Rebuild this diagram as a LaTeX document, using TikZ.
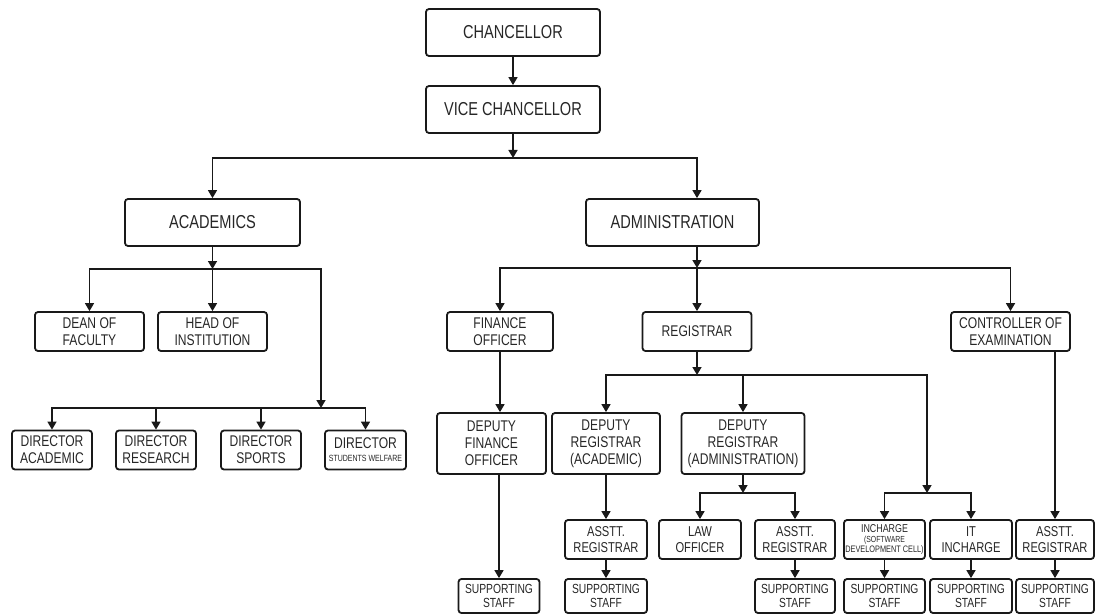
\documentclass[tikz,border=0pt]{standalone}
\usepackage{fontspec}
\setmainfont{Liberation Sans}[FakeStretch=0.78]
\usetikzlibrary{arrows.meta}

\tikzstyle{box}=[draw=black!90, line width=1.8pt, rounded corners=3pt, inner sep=0pt, align=center, text=black!85]
\tikzstyle{top}=[box, minimum height=47, font=\fontsize{18.7}{20}\selectfont]
\tikzstyle{mid}=[box, minimum height=39, font=\fontsize{15.5}{16.8}\selectfont]
\tikzstyle{dep}=[box, minimum height=61, font=\fontsize{15.5}{17.2}\selectfont]
\tikzstyle{low}=[box, minimum height=39, font=\fontsize{14.3}{15.6}\selectfont]
\tikzstyle{staff}=[box, minimum height=34, font=\fontsize{13.2}{13.6}\selectfont]
\tikzstyle{arr}=[line width=1.6pt, draw=black!90, -{Triangle[length=8pt,width=9pt]}]

\begin{document}
\begin{tikzpicture}[x=1pt,y=-1pt]
    \useasboundingbox (0,0) rectangle (1095,615);
    % top of the chart
    \node[top, minimum width=174] (chan) at (513,32.5) {CHANCELLOR};
    \node[top, minimum width=174] (vc) at (513,109.5) {VICE CHANCELLOR};
    \node[top, minimum width=175] (acad) at (212.5,222.5) {ACADEMICS};
    \node[top, minimum width=173] (admin) at (672.5,222.5) {ADMINISTRATION};

    % academics side
    \node[mid, minimum width=109] (dean) at (89.5,331.5) {DEAN OF\\FACULTY};
    \node[mid, minimum width=109] (head) at (212.5,331.5) {HEAD OF\\INSTITUTION};
    \node[mid, minimum width=80] (dacad) at (52,450) {DIRECTOR\\ACADEMIC};
    \node[mid, minimum width=80] (dres) at (156,450) {DIRECTOR\\RESEARCH};
    \node[mid, minimum width=80] (dsport) at (261,450) {DIRECTOR\\SPORTS};
    \node[mid, minimum width=81, font=\fontsize{9}{13}\selectfont] (dsw) at (365.5,450) {{\fontsize{15.5}{16}\selectfont DIRECTOR}\\STUDENTS WELFARE};

    % administration side
    \node[mid, minimum width=106] (fin) at (500,331.5) {FINANCE\\OFFICER};
    \node[mid, minimum width=109] (reg) at (697,331.5) {REGISTRAR};
    \node[mid, minimum width=119] (coe) at (1010.5,331.5) {CONTROLLER OF\\EXAMINATION};
    \node[dep, minimum width=109] (dfin) at (491.5,443.5) {DEPUTY\\FINANCE\\OFFICER};
    \node[dep, minimum width=108] (dracad) at (606,443.5) {DEPUTY\\REGISTRAR\\(ACADEMIC)};
    \node[dep, minimum width=123] (dradmin) at (743,443.5) {DEPUTY\\REGISTRAR\\(ADMINISTRATION)};
    \node[low, minimum width=82] (aracad) at (606,539.5) {ASSTT.\\REGISTRAR};
    \node[low, minimum width=82] (law) at (700,539.5) {LAW\\OFFICER};
    \node[low, minimum width=80] (aradmin) at (795,539.5) {ASSTT.\\REGISTRAR};
    \node[low, minimum width=81, font=\fontsize{8.8}{9.8}\selectfont] (sdc) at (884.5,539.5) {{\fontsize{11.4}{11}\selectfont INCHARGE}\\(SOFTWARE\\{\fontsize{9.4}{9}\selectfont DEVELOPMENT CELL)}};
    \node[low, minimum width=82] (it) at (971,539.5) {IT\\INCHARGE};
    \node[low, minimum width=78] (arcoe) at (1055,539.5) {ASSTT.\\REGISTRAR};
    \node[staff, minimum width=81] (ssfin) at (499,596) {SUPPORTING\\STAFF};
    \node[staff, minimum width=82] (ssacad) at (606,596) {SUPPORTING\\STAFF};
    \node[staff, minimum width=80] (ssadmin) at (795,596) {SUPPORTING\\STAFF};
    \node[staff, minimum width=81] (sssdc) at (884.5,596) {SUPPORTING\\STAFF};
    \node[staff, minimum width=82] (ssit) at (971,596) {SUPPORTING\\STAFF};
    \node[staff, minimum width=78] (sscoe) at (1055,596) {SUPPORTING\\STAFF};

    % junctions
    \coordinate (j1) at (513,158);
    \coordinate (j2) at (212.5,269);
    \coordinate (j3) at (321,408);
    \coordinate (j4) at (697,268);
    \coordinate (j5) at (697,375);
    \coordinate (j6) at (927,493);
    \coordinate (j7) at (743,493);

    \draw[arr] (chan) -- (vc);
    \draw[arr] (vc) -- (j1);
    \draw[arr] (j1) -| (acad);
    \draw[arr] (j1) -| ([xshift=24.5pt]admin.north);

    \draw[arr] (acad) -- (j2);
    \draw[arr] (j2) -| (dean);
    \draw[arr] (j2) -- (head);
    \draw[arr] (j2) -| (j3);
    \foreach \d in {dacad,dres,dsport,dsw}
        \draw[arr] (j3) -| (\d);

    \draw[arr] ([xshift=24.5pt]admin.south) -- (j4);
    \draw[arr] (j4) -| (fin);
    \draw[arr] (j4) -- (reg);
    \draw[arr] (j4) -| (coe);
    \draw[arr] (fin) -- (fin |- dfin.north);
    \draw[arr] (ssfin |- dfin.south) -- (ssfin);

    \draw[arr] (reg) -- (j5);
    \draw[arr] (j5) -| (dracad);
    \draw[arr] (j5) -| (dradmin);
    \draw[arr] (j5) -| (j6);
    \draw[arr] (j6) -| (sdc);
    \draw[arr] (j6) -| (it);
    \draw[arr] (dracad) -- (aracad);
    \draw[arr] (dradmin) -- (j7);
    \draw[arr] (j7) -| (law);
    \draw[arr] (j7) -| (aradmin);
    \draw[arr] (arcoe |- coe.south) -- (arcoe);
    \foreach \a/\b in {aracad/ssacad,aradmin/ssadmin,sdc/sssdc,it/ssit,arcoe/sscoe}
        \draw[arr] (\a) -- (\b);
\end{tikzpicture}
\end{document}
